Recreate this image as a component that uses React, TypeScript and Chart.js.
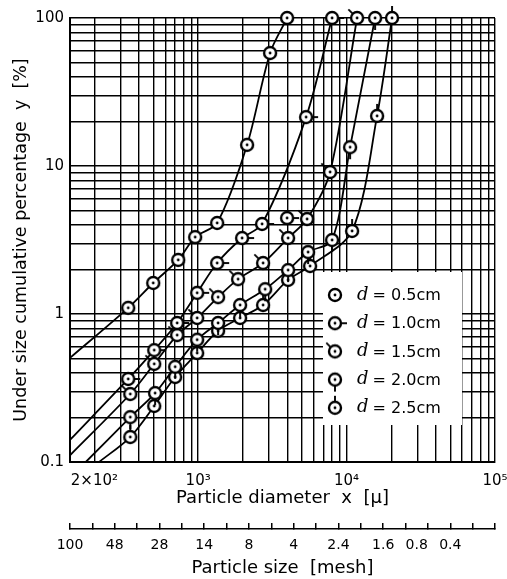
import React, { useEffect, useRef } from 'react';
import { Chart, registerables } from 'chart.js';

Chart.register(...registerables);

// ---------------- data ----------------
const seriesLabels = ['0.5cm', '1.0cm', '1.5cm', '2.0cm', '2.5cm'];
const seriesStubs = ['none', 'right', 'upleft', 'down', 'up'];

// d = 0.5 cm
const aX = [338, 498, 734, 955, 1343, 2138, 3053, 3975];
const aY = [1.10, 1.62, 2.32, 3.31, 4.12, 13.9, 58, 100];
// d = 1.0 cm
const bX = [338, 506, 722, 985, 1343, 1978, 2698, 3975, 5338, 7987];
const bY = [0.364, 0.57, 0.87, 1.39, 2.21, 3.26, 4.06, 4.45, 21.4, 100];
// d = 1.5 cm
const cX = [349, 506, 722, 985, 1363, 1859, 2740, 4036, 5420, 7743, 11770];
const cY = [0.288, 0.46, 0.72, 0.94, 1.30, 1.72, 2.21, 3.26, 4.38, 9.1, 100];
// d = 2.0 cm
const dX = [349, 513, 700, 985, 1363, 1918, 2827, 4036, 5505, 7987, 10560, 15560];
const dY = [0.201, 0.292, 0.44, 0.67, 0.87, 1.15, 1.47, 1.98, 2.62, 3.16, 13.4, 100];
// d = 2.5 cm
const eX = [349, 506, 700, 985, 1363, 1918, 2740, 4036, 5678, 10890, 16050, 20250];
const eY = [0.1475, 0.239, 0.375, 0.545, 0.77, 0.94, 1.15, 1.70, 2.11, 3.64, 21.8, 100];

// where each drawn (fitted) curve begins at the lower-left edge of the plot
const curveStartX = [137, 137, 137, 175, 215];
const curveStartY = [0.505, 0.141, 0.111, 0.1, 0.1];
// marker that lies off its fitted curve (series index, point index)
const offCurveSeries = 1;
const offCurvePoint = 7;

// axes
const xMin = 137;
const xMax = 100000;
const yMin = 0.1;
const yMax = 100;
const xMajorValues = [200, 1000, 10000, 100000];
const xMajorLabels = ['2×10²', '10³', '10⁴', '10⁵'];
const yMajorValues = [0.1, 1, 10, 100];
const yMajorLabels = ['0.1', '1', '10', '100'];
const gridMultipliers = [1, 2, 3, 4, 5, 6, 7, 8, 9];
const xDecades = [100, 1000, 10000, 100000];
const yDecades = [0.1, 1, 10, 100];

// secondary (mesh) scale
const meshTickPositions = [0, 1, 2, 3, 4, 5, 6, 7, 8, 9, 10, 11, 12, 13, 14, 15, 16, 17, 18, 19];
const meshLabelPositions = [0, 2, 4, 6, 8, 10, 12, 14, 15.5, 17];
const meshLabels = ['100', '48', '28', '14', '8', '4', '2.4', '1.6', '0.8', '0.4'];

const FONT = "'DejaVu Sans', sans-serif";

function gridValues(decades: number[], lo: number, hi: number): number[] {
  const out: number[] = [];
  decades.forEach((d) => gridMultipliers.forEach((m) => {
    const v = parseFloat((m * d).toPrecision(6));
    if (v >= lo - 1e-9 && v <= hi + 1e-9 && !out.includes(v)) out.push(v);
  }));
  return out.sort((p, q) => p - q);
}

function makeMarker(kind: string): HTMLCanvasElement {
  const s = 30;
  const c = document.createElement('canvas');
  c.width = s;
  c.height = s;
  const g = c.getContext('2d') as CanvasRenderingContext2D;
  const m = s / 2;
  const r = 6;
  g.strokeStyle = '#000';
  g.lineWidth = 1.9;
  g.beginPath();
  if (kind === 'right') { g.moveTo(m + r, m); g.lineTo(m + r + 6, m); }
  if (kind === 'down') { g.moveTo(m, m + r); g.lineTo(m, m + r + 6); }
  if (kind === 'up') { g.moveTo(m, m - r); g.lineTo(m, m - r - 6); }
  if (kind === 'upleft') { g.moveTo(m - r * 0.7, m - r * 0.7); g.lineTo(m - r * 0.7 - 4.5, m - r * 0.7 - 4.5); }
  g.stroke();
  g.beginPath();
  g.arc(m, m, r, 0, Math.PI * 2);
  g.fillStyle = '#fff';
  g.fill();
  g.lineWidth = 2.4;
  g.stroke();
  g.beginPath();
  g.arc(m, m, 1.4, 0, Math.PI * 2);
  g.fillStyle = '#000';
  g.fill();
  return c;
}

export default function App() {
  const ref = useRef<HTMLCanvasElement | null>(null);

  useEffect(() => {
    if (!ref.current) return;
    const xs = [aX, bX, cX, dX, eX];
    const ys = [aY, bY, cY, dY, eY];
    const markers = seriesStubs.map((k) => makeMarker(k));
    const xGrid = gridValues(xDecades, xMin, xMax);
    const yGrid = gridValues(yDecades, yMin, yMax);

    const markerSets = xs.map((sx, i) => ({
      type: 'scatter' as const,
      label: 'd = ' + seriesLabels[i],
      data: sx.map((x, j) => ({ x, y: ys[i][j] })),
      pointStyle: markers[i],
      pointRadius: 7,
      showLine: false,
      clip: false as any,
      order: 0,
    }));
    const curveSets = xs.map((sx, i) => {
      const pts = sx
        .map((x, j) => ({ x, y: ys[i][j], j }))
        .filter((p) => !(i === offCurveSeries && p.j === offCurvePoint))
        .map((p) => ({ x: p.x, y: p.y }));
      return {
        type: 'scatter' as const,
        label: 'curve ' + seriesLabels[i],
        data: [{ x: curveStartX[i], y: curveStartY[i] }, ...pts],
        showLine: true,
        pointRadius: 0,
        borderColor: '#000',
        borderWidth: 1.8,
        tension: 0.3,
        order: 1,
      };
    });

    const legendBox = {
      id: 'legendBox',
      afterDatasetsDraw(chart: any) {
        const { ctx, chartArea } = chart;
        const bx = chartArea.left + 253;
        const by = chartArea.top + 254;
        ctx.save();
        ctx.fillStyle = '#fff';
        ctx.fillRect(bx, by, 139, 153);
        seriesLabels.forEach((lab, i) => {
          const cy = by + 23 + i * 28.2;
          const img = markers[i];
          ctx.drawImage(img, bx + 12 - img.width / 2, cy - img.height / 2);
          ctx.fillStyle = '#000';
          ctx.textBaseline = 'middle';
          ctx.textAlign = 'left';
          ctx.font = "italic 18px 'DejaVu Serif', serif";
          ctx.fillText('d', bx + 34, cy);
          const w = ctx.measureText('d').width;
          ctx.font = '16px ' + FONT;
          ctx.fillText('= ' + lab, bx + 34 + w + 4, cy + 1);
        });
        ctx.restore();
      },
    };

    const zeroPad = (s: any) => {
      s.paddingLeft = 0;
      s.paddingRight = 0;
      s.paddingTop = 0;
      s.paddingBottom = 0;
    };

    const chart = new Chart(ref.current, {
      type: 'scatter',
      data: { datasets: [...markerSets, ...curveSets] as any },
      plugins: [legendBox],
      options: {
        animation: false,
        responsive: false,
        events: [],
        layout: { padding: { top: 18, right: 12, bottom: 0, left: 0 } },
        plugins: { legend: { display: false }, tooltip: { enabled: false } },
        scales: {
          x: {
            type: 'logarithmic',
            position: 'bottom',
            weight: 0,
            min: xMin,
            max: xMax,
            afterBuildTicks: (s: any) => { s.ticks = xGrid.map((v) => ({ value: v })); },
            afterFit: (s: any) => { s.height = 67; zeroPad(s); },
            ticks: {
              autoSkip: false,
              maxRotation: 0,
              padding: 10,
              color: '#000',
              font: { family: FONT, size: 15 },
              callback: (v: any) => {
                const k = xMajorValues.indexOf(Number(v));
                return k >= 0 ? xMajorLabels[k] : '';
              },
            },
            grid: { color: '#000', lineWidth: 1.4, drawTicks: false },
            border: { display: true, color: '#000', width: 2 },
            title: {
              display: true,
              text: 'Particle diameter  x  [μ]',
              color: '#000',
              font: { family: FONT, size: 18 },
              padding: { top: 0, bottom: 20 },
            },
          },
          meshTicks: {
            type: 'linear',
            position: 'bottom',
            weight: 1,
            min: 0,
            max: 19,
            afterBuildTicks: (s: any) => { s.ticks = meshTickPositions.map((v) => ({ value: v })); },
            afterFit: (s: any) => { s.height = 6; zeroPad(s); },
            ticks: { display: false },
            grid: { drawOnChartArea: false, drawTicks: true, tickLength: -6, color: '#000', lineWidth: 1.5 },
            border: { display: true, color: '#000', width: 1.5 },
          },
          meshLabels: {
            type: 'linear',
            position: 'bottom',
            weight: 2,
            min: 0,
            max: 19,
            afterBuildTicks: (s: any) => { s.ticks = meshLabelPositions.map((v) => ({ value: v })); },
            afterFit: (s: any) => { s.height = 44; zeroPad(s); },
            ticks: {
              autoSkip: false,
              maxRotation: 0,
              padding: 2,
              color: '#000',
              font: { family: FONT, size: 14 },
              callback: (v: any) => {
                const k = meshLabelPositions.indexOf(Number(v));
                return k >= 0 ? meshLabels[k] : '';
              },
            },
            grid: { display: false, drawTicks: false },
            border: { display: false },
            title: {
              display: true,
              text: 'Particle size  [mesh]',
              color: '#000',
              font: { family: FONT, size: 18 },
              padding: { top: 0, bottom: 0 },
            },
          },
          y: {
            type: 'logarithmic',
            position: 'left',
            min: yMin,
            max: yMax,
            afterBuildTicks: (s: any) => { s.ticks = yGrid.map((v) => ({ value: v })); },
            afterFit: (s: any) => { s.width = 70; zeroPad(s); },
            ticks: {
              autoSkip: false,
              padding: 6,
              color: '#000',
              font: { family: FONT, size: 15 },
              callback: (v: any) => {
                const k = yMajorValues.indexOf(Number(v));
                return k >= 0 ? yMajorLabels[k] : '';
              },
            },
            grid: { color: '#000', lineWidth: 1.4, drawTicks: false },
            border: { display: true, color: '#000', width: 2 },
            title: {
              display: true,
              text: 'Under size cumulative percentage  y  [%]',
              color: '#000',
              font: { family: FONT, size: 17.5 },
              padding: { top: 11, bottom: 0 },
            },
          },
        },
      } as any,
    });
    return () => chart.destroy();
  }, []);

  return (
    <div style={{ position: 'absolute', left: 0, top: 0, width: 507, height: 579 }}>
      <canvas ref={ref} width={507} height={579} style={{ display: 'block' }} />
    </div>
  );
}
